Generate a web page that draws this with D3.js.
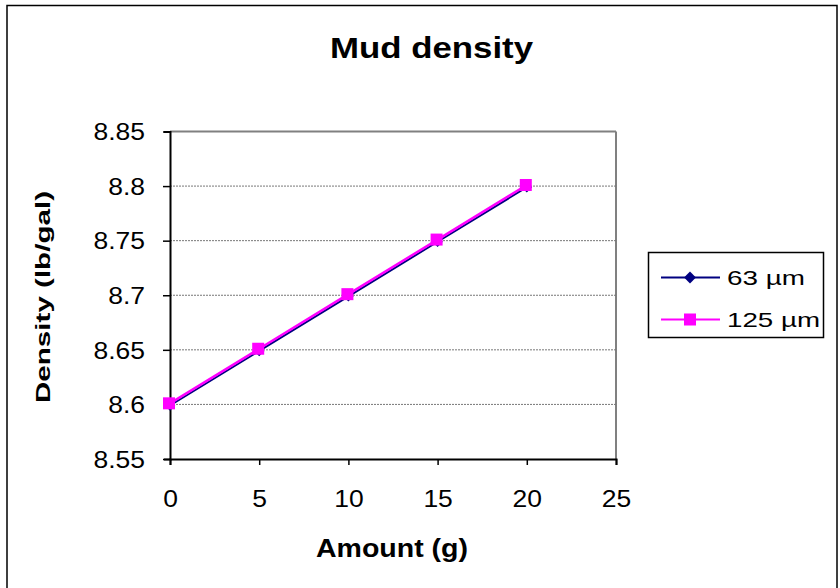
<!DOCTYPE html>
<html><head><meta charset="utf-8">
<script src="https://cdn.jsdelivr.net/npm/d3@7"></script>
<style>body{margin:0;background:#fff}svg{display:block;font-family:"Liberation Sans",Arial,sans-serif}</style>
</head><body>
<script>
const amounts = [0, 5, 10, 15, 20];
const series63 = [8.599, 8.649, 8.699, 8.749, 8.799];
const series125 = [8.601, 8.651, 8.701, 8.751, 8.801];
const seriesNames = ["63 µm", "125 µm"];
const xTicks = [0, 5, 10, 15, 20, 25];
const yTicks = [8.55, 8.6, 8.65, 8.7, 8.75, 8.8, 8.85];

const W = 840, H = 588;
const FONT = '"Liberation Sans",Arial,sans-serif';
const STRETCH = 1.15;
const svg = d3.select("body").append("svg").attr("width", W).attr("height", H);
svg.append("rect").attr("x", 0).attr("y", 0).attr("width", W).attr("height", H).attr("fill", "#fff");
svg.append("rect").attr("x", 7).attr("y", 5.5).attr("width", 830).attr("height", 590)
  .attr("fill", "none").attr("stroke", "#000").attr("stroke-width", 1.5);

function stretch(sel, k) {
  sel.each(function () {
    const len = this.getComputedTextLength();
    d3.select(this).attr("textLength", len * k).attr("lengthAdjust", "spacingAndGlyphs");
  });
}

const L = 170, R = 616, T = 131.5, B = 459;
const x = d3.scaleLinear().domain([0, 25]).range([L, R]);
const y = d3.scaleLinear().domain([8.55, 8.85]).range([B, T]);

// plot area border (top/right gray)
svg.append("line").attr("x1", L).attr("x2", R).attr("y1", T).attr("y2", T).attr("stroke", "#808080").attr("stroke-width", 2);
svg.append("line").attr("x1", R).attr("x2", R).attr("y1", T).attr("y2", B).attr("stroke", "#808080").attr("stroke-width", 2);

// gridlines
svg.append("g").selectAll("line").data(yTicks.filter(v => v > 8.56 && v < 8.84)).join("line")
  .attr("x1", L).attr("x2", R).attr("y1", d => y(d)).attr("y2", d => y(d))
  .attr("stroke", "#777").attr("stroke-width", 1).attr("stroke-dasharray", "2,1");

// axes
const yAxis = svg.append("g").attr("transform", `translate(${L},0)`)
  .call(d3.axisLeft(y).tickValues(yTicks).tickFormat(d => String(+d.toFixed(2))).tickSize(6).tickPadding(23));
const xAxis = svg.append("g").attr("transform", `translate(0,${B})`)
  .call(d3.axisBottom(x).tickValues(xTicks).tickFormat(d3.format("d")).tickSize(6).tickPadding(26));
[yAxis, xAxis].forEach(g => {
  g.select(".domain").attr("stroke", "#000").attr("stroke-width", 2);
  g.selectAll(".tick line").attr("stroke", "#000").attr("stroke-width", 1.5);
  g.selectAll(".tick text").attr("fill", "#000").style("font-size", "23px").style("font-family", FONT);
  stretch(g.selectAll(".tick text"), STRETCH);
});
yAxis.selectAll(".tick line").attr("x1", 0).attr("x2", -7);
yAxis.selectAll(".tick text").attr("x", -25).attr("dy", "0.36em");

// lines
const line = d3.line().x((d, i) => x(amounts[i])).y(d => y(d));
svg.append("path").datum(series63).attr("d", line).attr("fill", "none").attr("stroke", "#000080").attr("stroke-width", 2);
svg.append("g").selectAll("path").data(series63).join("path")
  .attr("d", d3.symbol().type(d3.symbolDiamond2).size(70)())
  .attr("transform", (d, i) => `translate(${x(amounts[i])},${y(d)})`)
  .attr("fill", "#000080");
svg.append("path").datum(series125).attr("d", line).attr("fill", "none").attr("stroke", "#FF00FF").attr("stroke-width", 2.5);
svg.append("g").selectAll("rect").data(series125).join("rect")
  .attr("x", (d, i) => x(amounts[i]) - 7).attr("y", d => y(d) - 6)
  .attr("width", 12).attr("height", 12).attr("fill", "#FF00FF");

// title and axis titles
svg.append("text").attr("x", 431.5).attr("y", 58).attr("text-anchor", "middle")
  .style("font-size", "29px").style("font-weight", "bold").style("font-family", FONT)
  .attr("textLength", 203).attr("lengthAdjust", "spacingAndGlyphs").text("Mud density");
svg.append("text").attr("x", 392).attr("y", 557).attr("text-anchor", "middle")
  .style("font-size", "25px").style("font-weight", "bold").style("font-family", FONT)
  .attr("textLength", 152).attr("lengthAdjust", "spacingAndGlyphs").text("Amount (g)");
svg.append("text").attr("transform", "translate(50,297) rotate(-90)").attr("text-anchor", "middle")
  .style("font-size", "21px").style("font-weight", "bold").style("font-family", FONT)
  .attr("textLength", 212).attr("lengthAdjust", "spacingAndGlyphs").text("Density (lb/gal)");

// legend
const lg = svg.append("g");
lg.append("rect").attr("x", 648.5).attr("y", 252.5).attr("width", 175).attr("height", 85)
  .attr("fill", "#fff").attr("stroke", "#000").attr("stroke-width", 1.5);
const lgY = [277.5, 319.5];
const lgColors = ["#000080", "#FF00FF"];
const lgLen = [78, 93];
seriesNames.forEach((name, i) => {
  lg.append("line").attr("x1", 661).attr("x2", 720).attr("y1", lgY[i]).attr("y2", lgY[i])
    .attr("stroke", lgColors[i]).attr("stroke-width", 2);
  if (i === 0) {
    lg.append("path").attr("d", d3.symbol().type(d3.symbolDiamond2).size(90)())
      .attr("transform", `translate(690,${lgY[i]})`).attr("fill", lgColors[i]);
  } else {
    lg.append("rect").attr("x", 684).attr("y", lgY[i] - 6).attr("width", 12).attr("height", 12).attr("fill", lgColors[i]);
  }
  lg.append("text").attr("x", 727).attr("y", lgY[i]).attr("dy", "0.36em")
    .style("font-size", "21px").style("font-family", FONT)
    .attr("textLength", lgLen[i]).attr("lengthAdjust", "spacingAndGlyphs").text(name);
});
</script>
</body></html>
